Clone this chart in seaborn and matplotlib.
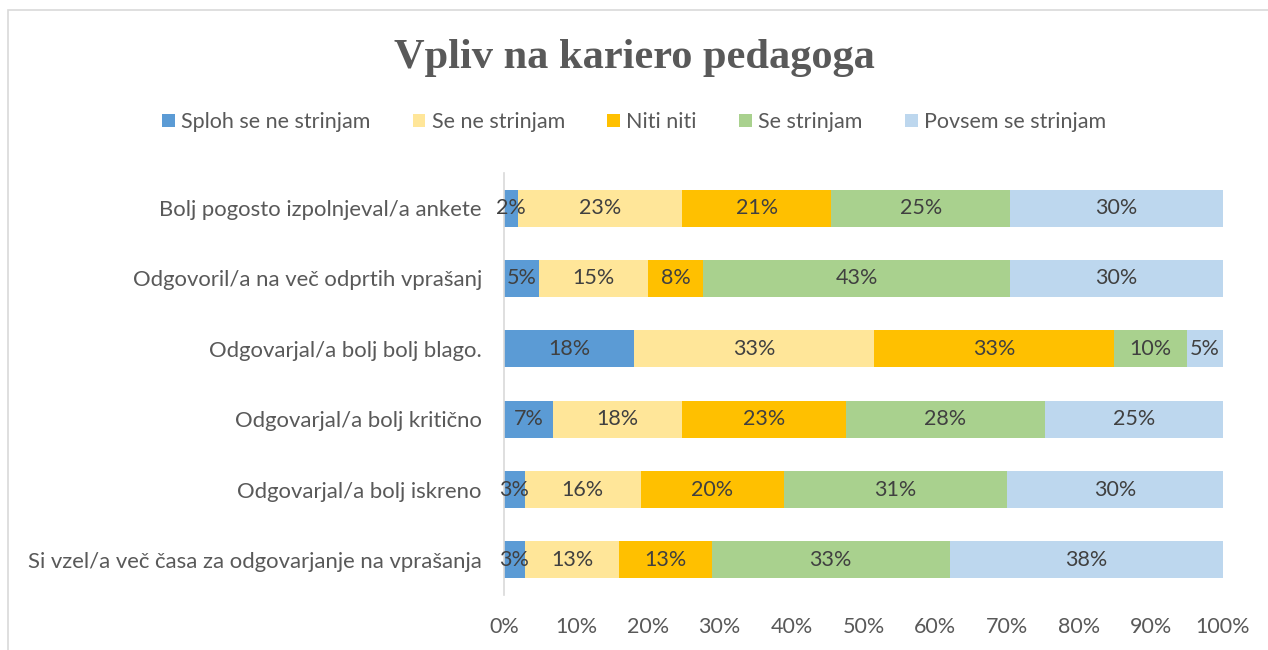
"""
Stacked percentage bar chart: Vpliv na kariero pedagoga.
"""
import numpy as np
import pandas as pd
import matplotlib
matplotlib.use("Agg")
import matplotlib.pyplot as plt
from matplotlib.patches import Patch, Rectangle
import seaborn as sns

# === DATA ===
CATEGORIES = [
    "Bolj pogosto izpolnjeval/a ankete",
    "Odgovoril/a na več odprtih vprašanj",
    "Odgovarjal/a bolj bolj blago.",
    "Odgovarjal/a bolj kritično",
    "Odgovarjal/a bolj iskreno",
    "Si vzel/a več časa za odgovarjanje na vprašanja",
]
SERIES = ["Sploh se ne strinjam", "Se ne strinjam", "Niti niti", "Se strinjam", "Povsem se strinjam"]
SPLOH = [2.0, 4.9, 18.1, 6.8, 2.9, 2.9]
SE_NE = [22.8, 15.1, 33.4, 18.0, 16.1, 13.1]
NITI = [20.7, 7.7, 33.3, 22.7, 19.9, 12.9]
SE_STR = [24.9, 42.7, 10.2, 27.8, 31.0, 33.1]
POVSEM = [29.6, 29.6, 5.0, 24.7, 30.1, 38.0]
X_TICKS = [0, 10, 20, 30, 40, 50, 60, 70, 80, 90, 100]

COLORS = ["#5B9BD5", "#FFE699", "#FFC000", "#A9D18E", "#BDD7EE"]
TEXT = "#595959"
LABEL = "#404040"
FS = 15.5

sns.set_theme(style="white")
plt.rcParams["font.family"] = ["Lato", "DejaVu Sans"]

df = pd.DataFrame(
    np.array([SPLOH, SE_NE, NITI, SE_STR, POVSEM]).T, columns=SERIES
)
df["kategorija"] = CATEGORIES
cum = df[SERIES].cumsum(axis=1)

fig = plt.figure(figsize=(12.68, 6.5), dpi=100)
ax = fig.add_axes([504 / 1268, 1 - 595 / 650, (1223 - 504) / 1268, (595 - 173) / 650])

# draw cumulative totals from the largest down so each segment stays visible
for s, color in reversed(list(zip(SERIES, COLORS))):
    sns.barplot(x=cum[s], y=df["kategorija"], orient="h", color=color,
                width=0.53, saturation=1, ax=ax, linewidth=0)

for i in range(len(CATEGORIES)):
    left = 0
    for s in SERIES:
        v = df.loc[i, s]
        ax.text(left + v / 2, i, f"{round(v):.0f}%", ha="center", va="center",
                fontsize=FS, color=LABEL)
        left += v

ax.set_xlim(0, 100)
ax.set_ylim(len(CATEGORIES) - 0.5, -0.5)
ax.set_xticks(X_TICKS)
ax.set_xticklabels([f"{t}%" for t in X_TICKS])
ax.set_xlabel("")
ax.set_ylabel("")
ax.tick_params(axis="x", labelsize=FS, colors=TEXT, length=0, pad=16)
ax.tick_params(axis="y", labelsize=15.9, colors=TEXT, length=0, pad=16)
for side in ["top", "right", "bottom"]:
    ax.spines[side].set_visible(False)
ax.spines["left"].set_color("#D9D9D9")
ax.spines["left"].set_linewidth(1.2)

fig.text(0.5, 1 - 58 / 650, "Vpliv na kariero pedagoga", ha="center", va="center",
         fontsize=30.5, fontweight="bold", color=TEXT, family="Liberation Serif")

handles = [Patch(facecolor=c, edgecolor="none") for c in COLORS]
fig.legend(handles, SERIES, loc="center", bbox_to_anchor=(0.5, 1 - 122 / 650), ncol=5,
           frameon=False, fontsize=FS, handlelength=0.6, handleheight=0.6,
           handletextpad=0.3, columnspacing=1.95, labelcolor=TEXT)

fig.patches.append(Rectangle((8 / 1268, -0.1), 1.1, 1 - 10 / 650 + 0.1, transform=fig.transFigure,
                             fill=False, edgecolor="#D9D9D9", linewidth=1.2))

fig.savefig("out.png", dpi=100)
